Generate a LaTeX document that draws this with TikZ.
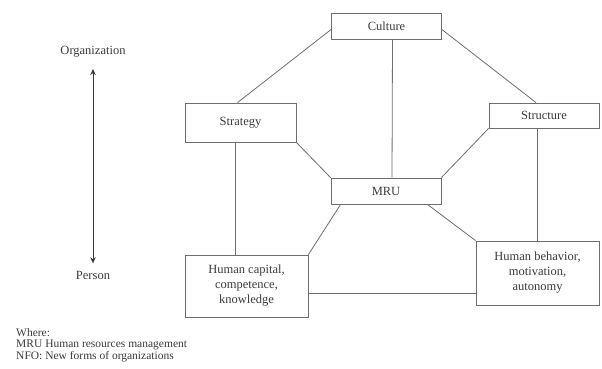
\documentclass[tikz,border=0pt]{standalone}
\usepackage{fontspec}
\setmainfont{Liberation Serif}
\usepackage{tikz}
\usetikzlibrary{arrows.meta,calc}
\usepackage{xcolor}
\definecolor{edgegray}{HTML}{6E6E6E}
\definecolor{inkgray}{HTML}{3A3A3A}

\begin{document}
\begin{tikzpicture}[
  x=1pt, y=-1pt,
  font=\fontsize{12.5}{15}\selectfont, text=inkgray,
  box/.style={draw=edgegray, line width=0.8pt, inner sep=1pt, align=center},
  link/.style={draw=edgegray, line width=0.8pt},
  axis/.style={draw=inkgray, line width=0.9pt, {Stealth[length=6pt,width=5.5pt]}-{Stealth[length=6pt,width=5.5pt]}},
  note/.style={anchor=west, inner sep=0pt, font=\fontsize{11.5}{11.5}\selectfont}
]
\useasboundingbox (0,0) rectangle (602,369);

% ---- Row 0: culture ----
\node[box, minimum width=110pt, minimum height=26pt] (cult) at (386.5,26.5) {Culture};

% ---- Row 1: strategy / structure ----
\node[box, minimum width=111pt, minimum height=39pt] (strat) at (240.5,122.5) {Strategy};
\node[box, minimum width=110pt, minimum height=25pt] (struc) at (544,115.5) {Structure};

% ---- Row 2: core ----
\node[box, minimum width=110pt, minimum height=26pt] (mru) at (386,191) {MRU};

% ---- Row 3: people ----
\node[box, minimum width=123pt, minimum height=62pt] (hcap) at (246.5,286) {Human capital,\\ competence,\\ knowledge};
\node[box, minimum width=123pt, minimum height=64pt] (hbeh) at (537.5,273) {Human behavior,\\ motivation,\\ autonomy};

\path ([xshift=-5pt]strat.south) coordinate (sdrop);
\path ([yshift=-7pt]hcap.east) coordinate (hlink);

\draw[link] ($(cult.west)+(0,3)$) -- ($(strat.north)+(-3,0)$);
\draw[link] ($(cult.east)+(0,3)$) -- ($(struc.north)+(-8,0)$);
\draw[link] ($(cult.south)+(6,0)$) -- ($(mru.north)+(6,0)$);
\draw[link] (strat.south east) -- (mru.north west);
\draw[link] (struc.south west) -- (mru.north east);
\draw[link] (sdrop) -- (sdrop |- hcap.north);
\draw[link] (hbeh.north |- struc.south) -- (hbeh.north);
\draw[link] ($(mru.south west)+(10,0)$) -- (hcap.north east);
\draw[link] ($(mru.south east)+(-14,0)$) -- (hbeh.north west);
\draw[link] (hlink) -- (hlink -| hbeh.west);

% ---- Left: level axis ----
\node (org) at (93,52) {Organization};
\node (pers) at (93,275) {Person};
\draw[axis] ([yshift=-8pt]org.south) -- ([yshift=4pt]pers.north);

% ---- Legend ----
\node[note] (where) at (16,333) {Where:};
\node[note] (abbr1) at (16,345) {MRU Human resources management};
\node[note] (abbr2) at (16,356.5) {NFO: New forms of organizations};

\end{tikzpicture}
\end{document}
